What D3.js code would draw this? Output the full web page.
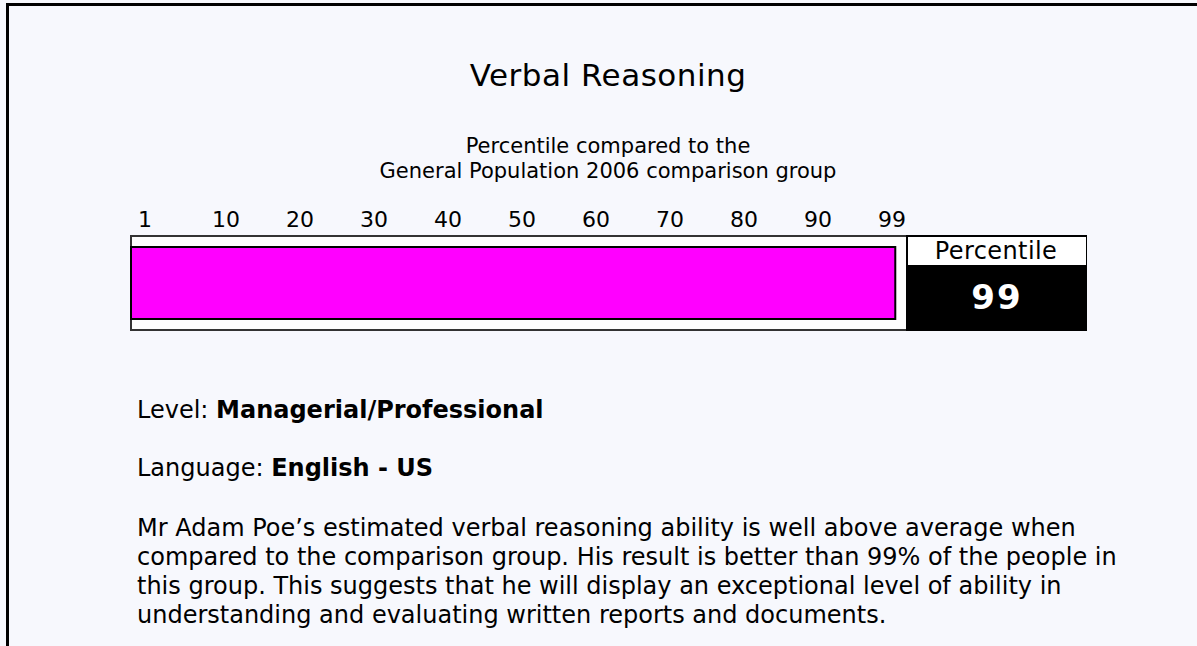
<html>
<head>
<meta charset="utf-8">
<title>Verbal Reasoning</title>
<script src="https://cdn.jsdelivr.net/npm/d3@7"></script>
<style>
  body { margin: 0; background: #f7f8fd; }
  svg text { font-family: "DejaVu Sans", Verdana, sans-serif; fill: #000; }
</style>
</head>
<body>
<div id="chart"></div>
<script>
// chart data
var title = "Verbal Reasoning";
var subtitle = ["Percentile compared to the", "General Population 2006 comparison group"];
var tickLabels = ["1", "10", "20", "30", "40", "50", "60", "70", "80", "90", "99"];
var percentile = 99;
var level = "Managerial/Professional";
var language = "English - US";
var summary = [
    "Mr Adam Poe\u2019s estimated verbal reasoning ability is well above average when",
    "compared to the comparison group. His result is better than 99% of the people in",
    "this group. This suggests that he will display an exceptional level of ability in",
    "understanding and evaluating written reports and documents."
];

var width = 1197, height = 646;

var svg = d3.select("#chart").append("svg")
    .attr("width", width)
    .attr("height", height);

// page frame (only top and left edges show)
svg.append("rect")
    .attr("x", 7.5).attr("y", 4.5)
    .attr("width", 1300).attr("height", 800)
    .attr("fill", "#f7f8fd")
    .attr("stroke", "#000")
    .attr("stroke-width", 3);

svg.append("text")
    .attr("x", 608).attr("y", 86)
    .attr("text-anchor", "middle")
    .attr("font-size", "31px")
    .attr("letter-spacing", 0.5)
    .text(title);

svg.selectAll("text.sub")
    .data(subtitle)
    .enter().append("text")
    .attr("class", "sub")
    .attr("x", 608)
    .attr("y", function(d, i) { return 153 + i * 25; })
    .attr("text-anchor", "middle")
    .attr("font-size", "21px")
    .text(function(d) { return d; });

// tick labels sit at even steps, left aligned
var tickPos = d3.scalePoint().domain(tickLabels).range([138, 878]);

svg.selectAll("text.tick")
    .data(tickLabels)
    .enter().append("text")
    .attr("class", "tick")
    .attr("x", function(d) { return tickPos(d); })
    .attr("y", 227)
    .attr("font-size", "22px")
    .attr("fill", "#222")
    .text(function(d) { return d; });

// bar
var x = d3.scaleLinear().domain([0, 100]).range([131, 903]);

svg.append("rect")
    .attr("x", 131).attr("y", 236)
    .attr("width", 776).attr("height", 94)
    .attr("fill", "#fdfdfd")
    .attr("stroke", "#333")
    .attr("stroke-width", 2);

svg.append("rect")
    .attr("x", x(0)).attr("y", 247)
    .attr("width", x(percentile) - x(0)).attr("height", 72)
    .attr("fill", "#ff00ff")
    .attr("stroke", "#000")
    .attr("stroke-width", 2);

// percentile box
svg.append("rect")
    .attr("x", 907).attr("y", 236)
    .attr("width", 179).attr("height", 94)
    .attr("fill", "#000")
    .attr("stroke", "#000")
    .attr("stroke-width", 2);

svg.append("rect")
    .attr("x", 908).attr("y", 237)
    .attr("width", 178).attr("height", 28)
    .attr("fill", "#fff");

svg.append("text")
    .attr("x", 996).attr("y", 259)
    .attr("text-anchor", "middle")
    .attr("font-size", "24px")
    .attr("letter-spacing", 0.4)
    .attr("fill", "#222")
    .text("Percentile");

svg.append("text")
    .attr("x", 997).attr("y", 309)
    .attr("text-anchor", "middle")
    .attr("font-size", "34px")
    .attr("font-weight", "bold")
    .attr("letter-spacing", 2)
    .style("fill", "#fff")
    .text(percentile);

// info lines
var info = svg.append("g")
    .attr("font-size", "24px");

var t1 = info.append("text").attr("x", 137).attr("y", 418);
t1.append("tspan").text("Level: ");
t1.append("tspan").attr("font-weight", "bold").text(level);

var t2 = info.append("text").attr("x", 137).attr("y", 476);
t2.append("tspan").text("Language: ");
t2.append("tspan").attr("font-weight", "bold").text(language);

info.selectAll("text.para")
    .data(summary)
    .enter().append("text")
    .attr("class", "para")
    .attr("x", 137)
    .attr("y", function(d, i) { return 536 + i * 29; })
    .text(function(d) { return d; });
</script>
</body>
</html>
